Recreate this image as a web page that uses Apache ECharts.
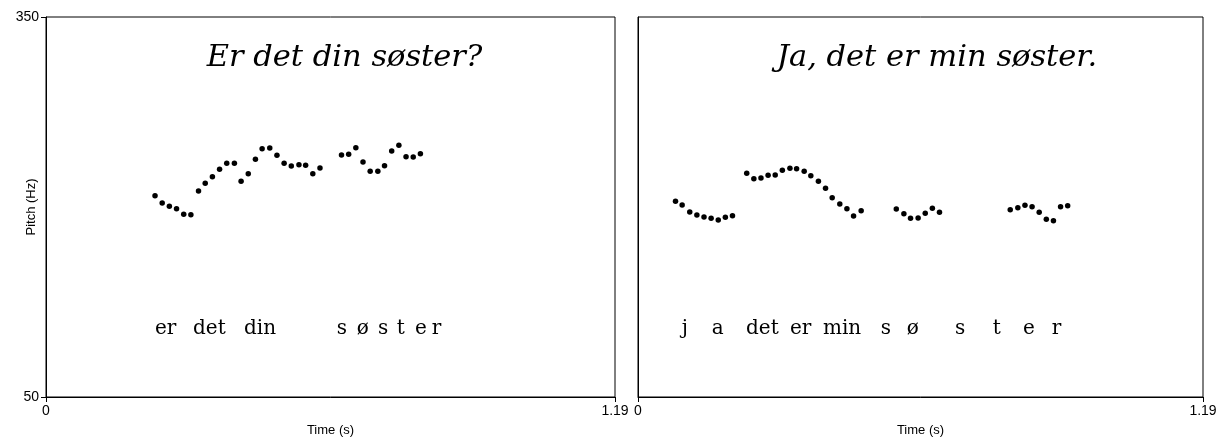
<!DOCTYPE html>
<html>
<head>
<meta charset="utf-8">
<script src="https://cdn.jsdelivr.net/npm/echarts@6/dist/echarts.min.js"></script>
<style>
html,body{margin:0;padding:0;background:#fff;}
#main{width:1221px;height:438px;}
</style>
</head>
<body>
<div id="main"></div>
<script>
// ---- data ----
const leftTitle = 'Er det din søster?';
const rightTitle = 'Ja, det er min søster.';

const leftTime = [0.228,0.243,0.258,0.273,0.288,0.303,0.319,0.333,0.348,0.363,0.378,0.394,0.408,0.423,0.438,0.452,0.468,0.483,0.498,0.513,0.529,0.543,0.558,0.573,0.618,0.633,0.648,0.663,0.678,0.694,0.708,0.723,0.738,0.753,0.768,0.783];
const leftPitch = [208.9,203.2,200.6,198.7,194.2,193.9,212.6,218.7,223.9,229.8,234.5,234.5,220.3,226.3,237.7,246.0,246.6,240.8,234.5,232.4,233.4,232.9,226.3,230.8,241.1,241.6,246.8,235.5,228.2,228.2,232.6,244.2,248.7,239.7,239.5,242.1];

const rightTime = [0.079,0.093,0.109,0.124,0.139,0.154,0.169,0.184,0.199,0.229,0.244,0.259,0.274,0.289,0.304,0.320,0.334,0.350,0.364,0.380,0.395,0.409,0.425,0.440,0.454,0.470,0.544,0.560,0.574,0.590,0.605,0.620,0.635,0.784,0.800,0.815,0.830,0.845,0.860,0.875,0.890,0.905];
const rightPitch = [204.5,201.6,196.1,193.7,192.1,191.1,189.7,191.9,193.1,226.6,222.3,222.9,225.0,225.3,229.0,230.6,230.2,228.2,224.7,220.3,214.8,207.3,202.4,198.7,192.9,197.1,198.4,194.7,191.1,191.3,195.0,199.0,195.8,197.9,199.4,201.3,200.2,195.8,190.3,189.2,200.2,201.0];

const leftWords = ['er','det','din','s','ø','s','t','e','r'];
const rightWords = ['j','a','det','er','min','s','ø','s','t','e','r'];

const xTicks = [0, 1.19];
const yTicks = [50, 350];
const yName = 'Pitch (Hz)';
const xName = 'Time (s)';

// ---- layout (pixels) ----
const leftWordX = [155,193,244,336.7,356.7,378,396.7,415,431.7];
const rightWordX = [681.7,711.7,746,790,823,880.7,906.7,955,992.7,1023,1051.7];
const wordY = 329;
const titleY = 58;

const chart = echarts.init(document.getElementById('main'), null, {renderer:'canvas'});

function mkX(gridIndex){
  return {
    type:'value', gridIndex, min:0, max:1.19,
    name:xName, nameLocation:'middle', nameGap:27, nameMoveOverlap:false,
    nameTextStyle:{fontFamily:'Liberation Sans', fontSize:13, color:'#000'},
    axisLine:{show:true, onZero:false, lineStyle:{color:'#000', width:1}},
    axisTick:{show:true, length:5, customValues:xTicks, lineStyle:{color:'#000'}},
    axisLabel:{show:true, customValues:xTicks, margin:7, fontFamily:'Liberation Sans', fontSize:14, color:'#000',
      formatter:v=>String(v), showMinLabel:true, showMaxLabel:true},
    splitLine:{show:false}
  };
}
function mkY(gridIndex, showLabels){
  return {
    type:'value', gridIndex, min:50, max:350,
    name: showLabels ? yName : '', nameLocation:'middle', nameGap:8, nameRotate:90, nameMoveOverlap:false,
    nameTextStyle:{fontFamily:'Liberation Sans', fontSize:13, color:'#000'},
    axisLine:{show:true, onZero:false, lineStyle:{color:'#000', width:1}},
    axisTick:{show:showLabels, length:5, customValues:yTicks, lineStyle:{color:'#000'}},
    axisLabel:{show:showLabels, customValues:yTicks, margin:7, fontFamily:'Liberation Sans', fontSize:14, color:'#000'},
    splitLine:{show:false}
  };
}

const graphics = [];
graphics.push({type:'text', silent:true, style:{text:leftTitle, x:344.5, y:titleY, align:'center', verticalAlign:'middle',
  font:'italic 30.5px "DejaVu Serif"', fill:'#000'}});
graphics.push({type:'text', silent:true, style:{text:rightTitle, x:937, y:titleY, align:'center', verticalAlign:'middle',
  font:'italic 30.5px "DejaVu Serif"', fill:'#000'}});
leftWords.forEach((w,i)=>graphics.push({type:'text', silent:true, style:{text:w, x:leftWordX[i], y:wordY, align:'left', verticalAlign:'middle', font:'20px "DejaVu Serif"', fill:'#000'}}));
rightWords.forEach((w,i)=>graphics.push({type:'text', silent:true, style:{text:w, x:rightWordX[i], y:wordY, align:'left', verticalAlign:'middle', font:'20px "DejaVu Serif"', fill:'#000'}}));

chart.setOption({
  animation:false,
  backgroundColor:'#fff',
  grid:[
    {left:46, top:17, width:569, height:380, outerBoundsMode:'none', containLabel:false, show:true, borderColor:'#000', borderWidth:1, backgroundColor:'transparent'},
    {left:638, top:17, width:565, height:380, outerBoundsMode:'none', containLabel:false, show:true, borderColor:'#000', borderWidth:1, backgroundColor:'transparent'}
  ],
  xAxis:[mkX(0), mkX(1)],
  yAxis:[mkY(0,true), mkY(1,false)],
  series:[
    {type:'scatter', xAxisIndex:0, yAxisIndex:0, symbol:'circle', symbolSize:5.5, itemStyle:{color:'#000', opacity:1},
      data:leftTime.map((t,i)=>[t,leftPitch[i]])},
    {type:'scatter', xAxisIndex:1, yAxisIndex:1, symbol:'circle', symbolSize:5.5, itemStyle:{color:'#000', opacity:1},
      data:rightTime.map((t,i)=>[t,rightPitch[i]])}
  ],
  graphic:graphics
});
</script>
</body>
</html>
